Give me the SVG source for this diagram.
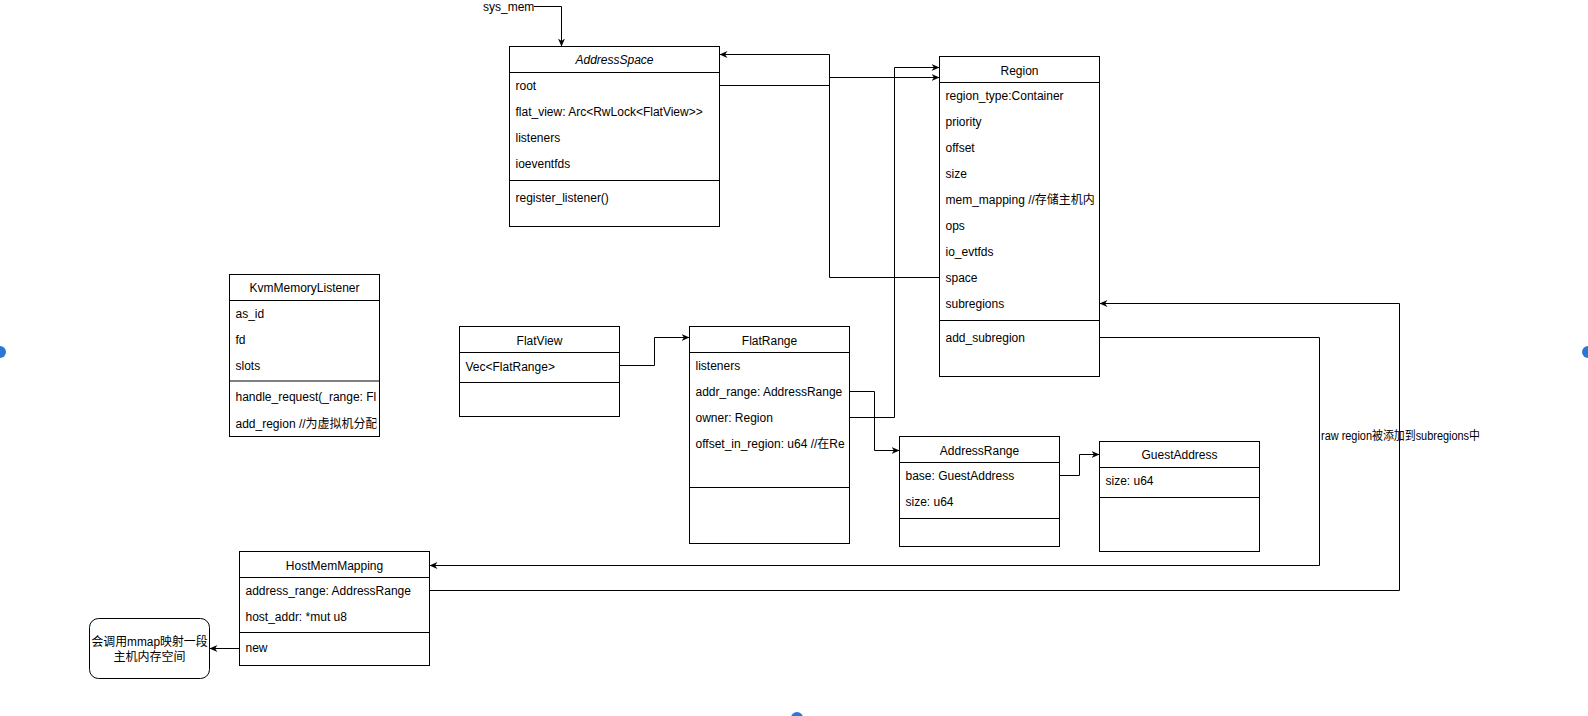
<svg xmlns="http://www.w3.org/2000/svg" width="1588" height="716" viewBox="0 0 1588 716">
<style>
text{font-family:"Liberation Sans","Noto Sans CJK SC",sans-serif;font-size:12px;fill:#000}
.t{text-anchor:middle}
.box{fill:#fff;stroke:#000;stroke-width:1}
.ln{stroke:#000;stroke-width:1;fill:none}
.edge{stroke:#000;stroke-width:1;fill:none;marker-end:url(#arr)}
.dot{fill:#2a78d4}
</style>
<defs>
<marker id="arr" markerUnits="userSpaceOnUse" markerWidth="10" markerHeight="8" refX="8" refY="3.5" orient="auto">
<path d="M0,0 L8,3.5 L0,7 L2.5,3.5 Z" fill="#000"/>
</marker>
<clipPath id="cKvm"><rect x="229.5" y="274.5" width="147" height="162"/></clipPath>
<clipPath id="cRegion"><rect x="939.5" y="56.5" width="156" height="320"/></clipPath>
<clipPath id="cFlatRange"><rect x="689.5" y="326.5" width="157" height="217"/></clipPath>
</defs>
<rect width="1588" height="716" fill="#fff"/>

<g id="AddressSpace">
<rect class="box" x="509.5" y="46.5" width="210" height="180"/>
<path class="ln" d="M509.5,72.5 H719.5 M509.5,180.5 H719.5"/>
<text class="t" x="614.5" y="64" font-style="italic">AddressSpace</text>
<text x="515.5" y="89.5">root</text>
<text x="515.5" y="115.5">flat_view: Arc&lt;RwLock&lt;FlatView&gt;&gt;</text>
<text x="515.5" y="141.5">listeners</text>
<text x="515.5" y="167.5">ioeventfds</text>
<text x="515.5" y="202">register_listener()</text>
</g>

<g id="Region">
<rect class="box" x="939.5" y="56.5" width="160" height="320"/>
<path class="ln" d="M939.5,82.5 H1099.5 M939.5,320.5 H1099.5"/>
<text class="t" x="1019.5" y="74.5">Region</text>
<g clip-path="url(#cRegion)">
<text x="945.5" y="99.5">region_type:Container</text>
<text x="945.5" y="125.5">priority</text>
<text x="945.5" y="151.5">offset</text>
<text x="945.5" y="177.5">size</text>
<text x="945.5" y="203.5">mem_mapping //存储主机内</text>
<text x="945.5" y="229.5">ops</text>
<text x="945.5" y="255.5">io_evtfds</text>
<text x="945.5" y="281.5">space</text>
<text x="945.5" y="307.5">subregions</text>
<text x="945.5" y="341.5">add_subregion</text>
</g>
</g>

<g id="KvmMemoryListener">
<rect class="box" x="229.5" y="274.5" width="150" height="162"/>
<path class="ln" d="M229.5,300.5 H379.5 M229.5,381 H379.5"/>
<text class="t" x="304.5" y="292">KvmMemoryListener</text>
<g clip-path="url(#cKvm)">
<text x="235.5" y="317.5">as_id</text>
<text x="235.5" y="343.5">fd</text>
<text x="235.5" y="369.5">slots</text>
<text x="235.5" y="400.5">handle_request(_range: Fl</text>
<text x="235.5" y="427.5">add_region //为虚拟机分配</text>
</g>
</g>

<g id="FlatView">
<rect class="box" x="459.5" y="326.5" width="160" height="90"/>
<path class="ln" d="M459.5,352.5 H619.5 M459.5,382.5 H619.5"/>
<text class="t" x="539.5" y="344.5">FlatView</text>
<text x="465.5" y="370.5">Vec&lt;FlatRange&gt;</text>
</g>

<g id="FlatRange">
<rect class="box" x="689.5" y="326.5" width="160" height="217"/>
<path class="ln" d="M689.5,352.5 H849.5 M689.5,487.5 H849.5"/>
<text class="t" x="769.5" y="344.5">FlatRange</text>
<g clip-path="url(#cFlatRange)">
<text x="695.5" y="369.5">listeners</text>
<text x="695.5" y="395.5">addr_range: AddressRange</text>
<text x="695.5" y="421.5">owner: Region</text>
<text x="695.5" y="447.5">offset_in_region: u64 //在Re</text>
</g>
</g>

<g id="AddressRange">
<rect class="box" x="899.5" y="436.5" width="160" height="110"/>
<path class="ln" d="M899.5,462.5 H1059.5 M899.5,518.5 H1059.5"/>
<text class="t" x="979.5" y="454.5">AddressRange</text>
<text x="905.5" y="479.5">base: GuestAddress</text>
<text x="905.5" y="505.5">size: u64</text>
</g>

<g id="GuestAddress">
<rect class="box" x="1099.5" y="441.5" width="160" height="110"/>
<path class="ln" d="M1099.5,467.5 H1259.5 M1099.5,497.5 H1259.5"/>
<text class="t" x="1179.5" y="459">GuestAddress</text>
<text x="1105.5" y="484.5">size: u64</text>
</g>

<g id="HostMemMapping">
<rect class="box" x="239.5" y="551.5" width="190" height="114"/>
<path class="ln" d="M239.5,577.5 H429.5 M239.5,632.5 H429.5"/>
<text class="t" x="334.5" y="569.5">HostMemMapping</text>
<text x="245.5" y="594.5">address_range: AddressRange</text>
<text x="245.5" y="620.5">host_addr: *mut u8</text>
<text x="245.5" y="652">new</text>
</g>

<g id="MmapNote">
<rect class="box" x="89.5" y="618.5" width="120" height="60" rx="9" ry="9"/>
<text class="t" x="149.5" y="646" textLength="116" lengthAdjust="spacingAndGlyphs">会调用mmap映射一段</text>
<text class="t" x="149.5" y="661">主机内存空间</text>
</g>

<g id="sysmem">
<text x="483" y="11">sys_mem</text>
</g>

<g id="connectors">
<path class="edge" d="M534,6.5 H561.5 V46.5"/>
<path class="edge" d="M939.5,277.5 H829.5 V54.5 H719.5"/>
<path class="edge" d="M719.5,85.5 H829.5 V77.5 H939.5"/>
<path class="edge" d="M849.5,417.5 H894.5 V67.5 H939.5"/>
<path class="edge" d="M619.5,365.5 H654.5 V337.5 H689.5"/>
<path class="edge" d="M849.5,391.5 H874.5 V450.5 H899.5"/>
<path class="edge" d="M1059.5,475.5 H1079.5 V454.5 H1099.5"/>
<path class="edge" d="M1099.5,337.5 H1319.5 V565.5 H429.5"/>
<path class="edge" d="M429.5,590.5 H1399.5 V303.5 H1099.5"/>
<path class="edge" d="M239.5,648.5 H209.5"/>
<text x="1321" y="440" font-size="11" textLength="159" lengthAdjust="spacingAndGlyphs">raw region被添加到subregions中</text>
</g>

<g id="handles">
<circle class="dot" cx="0" cy="352" r="6"/>
<circle class="dot" cx="1588" cy="352" r="6"/>
<circle class="dot" cx="797" cy="718" r="6"/>
</g>
</svg>
